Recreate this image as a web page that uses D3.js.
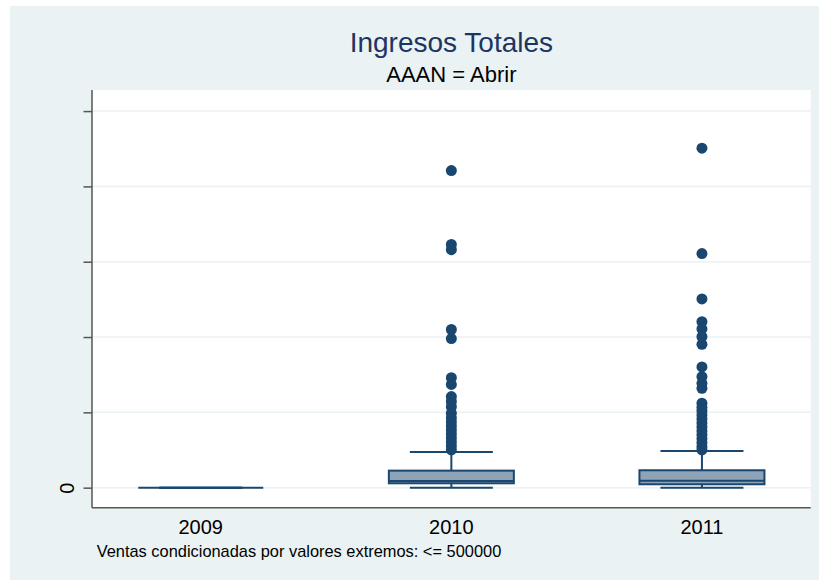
<!DOCTYPE html>
<html lang="es">
<head>
  <meta charset="UTF-8" />
  <title>Ingresos Totales</title>
  <style>
    body {
      margin: 0;
      background: #ffffff;
      font-family: "Liberation Sans", Arial, sans-serif;
    }
    svg { display: block; }
  </style>
</head>
<body>
  <div id="chart"></div>

  <script src="https://d3js.org/d3.v7.min.js"></script>
  <script>
    // Categories and box statistics
    const years = ["2009", "2010", "2011"];
    const lowerWhisker = [0, 0, 0];
    const q1 = [0, 5800, 4500];
    const median = [0, 8900, 9300];
    const q3 = [0, 22600, 23100];
    const upperWhisker = [0, 47400, 48700];

    // Outside values per year
    const outliers2009 = [];
    const outliers2010 = [421000, 323000, 316000, 210000, 198000, 146000, 137000,
      121000, 114500, 107600, 98800, 92600, 87300, 82000, 76700, 71300, 66000,
      60700, 55400, 50100];
    const outliers2011 = [450700, 310800, 250600, 220400, 210800, 200500, 190400,
      160300, 147400, 138600, 132000, 112100, 106500, 101900, 96600, 91300, 86000,
      80700, 75400, 70100, 64800, 59500, 54200, 50100];
    const outliers = [outliers2009, outliers2010, outliers2011];

    // Y ticks (only zero carries a label)
    const yTicks = [0, 100000, 200000, 300000, 400000, 500000];

    const W = 819, H = 580;
    const plot = { left: 92, right: 810.7, top: 90, bottom: 507.7 };
    const navy = "#1a476f";

    const svg = d3.select("#chart").append("svg")
      .attr("width", W)
      .attr("height", H);

    // Graph region and plot region
    svg.append("rect")
      .attr("x", 10).attr("y", 6)
      .attr("width", W - 10).attr("height", H - 6)
      .attr("fill", "#eaf2f3");

    svg.append("rect")
      .attr("x", plot.left).attr("y", plot.top)
      .attr("width", plot.right - plot.left)
      .attr("height", plot.bottom - plot.top)
      .attr("fill", "#ffffff");

    const x = d3.scalePoint()
      .domain(years)
      .range([plot.left, plot.right])
      .padding(0.434);

    const y = d3.scaleLinear()
      .domain([-26600, 528000])
      .range([plot.bottom, plot.top]);

    // Grid lines
    svg.append("g")
      .selectAll("line")
      .data(yTicks)
      .enter()
      .append("line")
      .attr("x1", plot.left)
      .attr("x2", plot.right)
      .attr("y1", d => y(d))
      .attr("y2", d => y(d))
      .attr("stroke", "#eaf2f3")
      .attr("stroke-width", 1.5);

    const boxW = 125, capW = 83;
    const boxes = svg.append("g")
      .selectAll("g")
      .data(years)
      .enter()
      .append("g");

    // Whiskers
    boxes.append("line")
      .attr("x1", d => x(d)).attr("x2", d => x(d))
      .attr("y1", (d, i) => y(q3[i])).attr("y2", (d, i) => y(upperWhisker[i]))
      .attr("stroke", navy).attr("stroke-width", 2);
    boxes.append("line")
      .attr("x1", d => x(d)).attr("x2", d => x(d))
      .attr("y1", (d, i) => y(q1[i])).attr("y2", (d, i) => y(lowerWhisker[i]))
      .attr("stroke", navy).attr("stroke-width", 2);
    boxes.append("line")
      .attr("x1", d => x(d) - capW / 2).attr("x2", d => x(d) + capW / 2)
      .attr("y1", (d, i) => y(upperWhisker[i])).attr("y2", (d, i) => y(upperWhisker[i]))
      .attr("stroke", navy).attr("stroke-width", 2);
    boxes.append("line")
      .attr("x1", d => x(d) - capW / 2).attr("x2", d => x(d) + capW / 2)
      .attr("y1", (d, i) => y(lowerWhisker[i])).attr("y2", (d, i) => y(lowerWhisker[i]))
      .attr("stroke", navy).attr("stroke-width", 2);

    // Boxes
    boxes.append("rect")
      .attr("x", d => x(d) - boxW / 2)
      .attr("width", boxW)
      .attr("y", (d, i) => y(q3[i]))
      .attr("height", (d, i) => y(q1[i]) - y(q3[i]))
      .attr("fill", "#8fa3b7")
      .attr("stroke", navy)
      .attr("stroke-width", 2);

    // Medians
    boxes.append("line")
      .attr("x1", d => x(d) - boxW / 2).attr("x2", d => x(d) + boxW / 2)
      .attr("y1", (d, i) => y(median[i])).attr("y2", (d, i) => y(median[i]))
      .attr("stroke", navy).attr("stroke-width", 2);

    // Outside values
    boxes.selectAll("circle")
      .data((d, i) => outliers[i].map(v => ({ year: d, value: v })))
      .enter()
      .append("circle")
      .attr("cx", d => x(d.year))
      .attr("cy", d => y(d.value))
      .attr("r", 5.5)
      .attr("fill", navy);

    // Y axis
    const yAxis = svg.append("g")
      .attr("transform", `translate(${plot.left},0)`)
      .call(d3.axisLeft(y)
        .tickValues(yTicks)
        .tickSize(8.5)
        .tickFormat(d => d === 0 ? "0" : ""));
    yAxis.select(".domain").remove();
    yAxis.selectAll(".tick line")
      .attr("stroke", "#555555")
      .attr("stroke-width", 1.5);
    yAxis.selectAll(".tick text")
      .attr("x", 0)
      .attr("dy", 0)
      .attr("transform", "translate(-18.5,0) rotate(-90)")
      .attr("text-anchor", "middle")
      .style("font-family", "'Liberation Sans', Arial, sans-serif")
      .style("font-size", "20px")
      .attr("fill", "#000000");

    svg.append("line")
      .attr("x1", plot.left).attr("x2", plot.left)
      .attr("y1", plot.top).attr("y2", plot.bottom)
      .attr("stroke", "#555555").attr("stroke-width", 1.5);

    // X axis
    svg.append("line")
      .attr("x1", plot.left).attr("x2", plot.right)
      .attr("y1", plot.bottom).attr("y2", plot.bottom)
      .attr("stroke", "#555555").attr("stroke-width", 1.5);

    svg.append("g")
      .selectAll("text")
      .data(years)
      .enter()
      .append("text")
      .attr("x", d => x(d))
      .attr("y", 534.3)
      .attr("text-anchor", "middle")
      .style("font-size", "20px")
      .attr("fill", "#000000")
      .text(d => d);

    // Titles
    svg.append("text")
      .attr("x", (plot.left + plot.right) / 2)
      .attr("y", 51.7)
      .attr("text-anchor", "middle")
      .style("font-size", "28px")
      .attr("fill", "#1e3462")
      .text("Ingresos Totales");

    svg.append("text")
      .attr("x", (plot.left + plot.right) / 2)
      .attr("y", 82.3)
      .attr("text-anchor", "middle")
      .style("font-size", "22px")
      .attr("fill", "#000000")
      .text("AAAN = Abrir");

    // Note
    svg.append("text")
      .attr("x", 96.7)
      .attr("y", 556.7)
      .style("font-size", "16.4px")
      .attr("fill", "#000000")
      .text("Ventas condicionadas por valores extremos: <= 500000");
  </script>
</body>
</html>
